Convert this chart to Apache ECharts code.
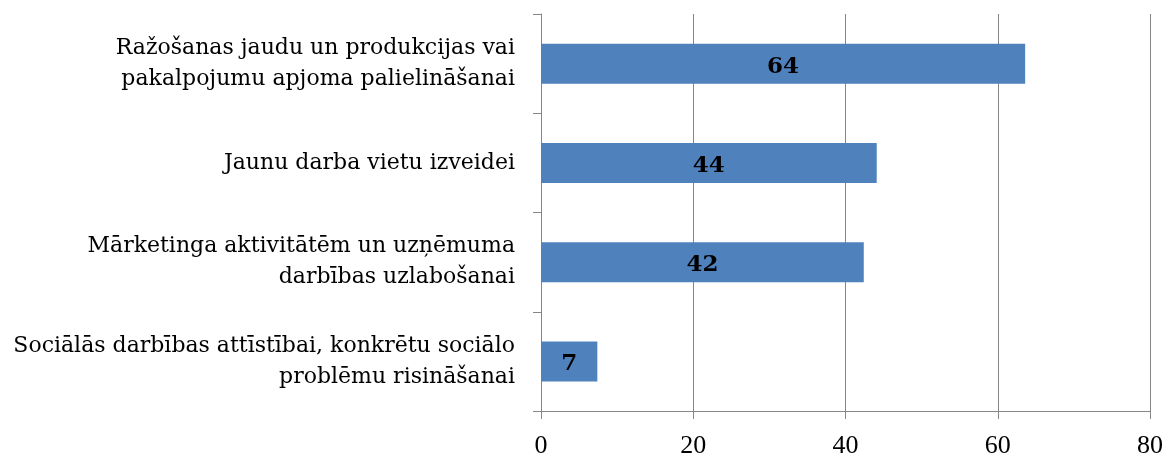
<!DOCTYPE html>
<html>
<head>
<meta charset="utf-8">
<script src="https://cdn.jsdelivr.net/npm/echarts@6/dist/echarts.min.js"></script>
<style>
    html, body { margin: 0; padding: 0; background: #fff; }
    #chart { width: 1168px; height: 459px; }
</style>
</head>
<body>
<div id="chart"></div>
<script>
// kategorijas (no apakšas uz augšu)
var categories = [
    'Sociālās darbības attīstībai, konkrētu sociālo\nproblēmu risināšanai',
    'Mārketinga aktivitātēm un uzņēmuma\ndarbības uzlabošanai',
    'Jaunu darba vietu izveidei',
    'Ražošanas jaudu un produkcijas vai\npakalpojumu apjoma palielināšanai'
];
var values = [7.4, 42.4, 44.1, 63.6];
var xTicks = [0, 20, 40, 60, 80];

var serifWide = '"DejaVu Serif", serif';
var serifNarrow = '"Liberation Serif", serif';
var axisGray = '#868686';

var myChart = echarts.init(document.getElementById('chart'));
var option = {
    animation: false,
    grid: {
        left: 541,
        right: 18,
        top: 14,
        bottom: 46
    },
    xAxis: {
        type: 'value',
        min: xTicks[0],
        max: xTicks[xTicks.length - 1],
        interval: xTicks[1] - xTicks[0],
        axisLine: { show: true, lineStyle: { color: axisGray, width: 1 } },
        axisTick: { show: true, length: 8, lineStyle: { color: axisGray } },
        axisLabel: {
            color: '#000',
            fontFamily: serifNarrow,
            fontSize: 26,
            margin: 22
        },
        splitLine: { show: true, lineStyle: { color: axisGray, width: 1 } }
    },
    yAxis: {
        type: 'category',
        data: categories,
        axisLine: { show: true, lineStyle: { color: axisGray, width: 1 } },
        axisTick: { show: true, length: 8, lineStyle: { color: axisGray } },
        axisLabel: {
            color: '#000',
            fontFamily: serifWide,
            fontSize: 22,
            lineHeight: 31,
            margin: 26,
            align: 'right'
        }
    },
    series: [{
        type: 'bar',
        data: values,
        barWidth: 40,
        itemStyle: { color: '#4F81BD' },
        label: {
            show: true,
            position: 'inside',
            offset: [0, 3],
            color: '#000',
            fontFamily: serifWide,
            fontWeight: 'bold',
            fontSize: 23,
            formatter: function(p) {
                return Math.round(p.value);
            }
        }
    }]
};
myChart.setOption(option);
</script>
</body>
</html>
